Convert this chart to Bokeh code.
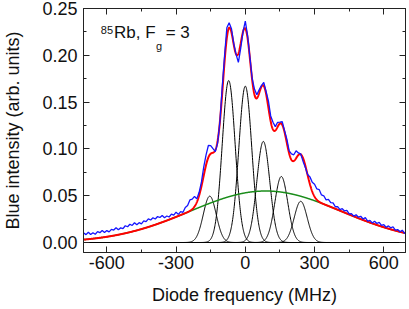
import numpy as np
from bokeh.plotting import figure
from bokeh.models import Range1d, LinearAxis, Label, NumeralTickFormatter, FixedTicker, CustomJSTickFormatter
from bokeh.embed import file_html
from bokeh.resources import INLINE

# ---- data ----
freq_start = -700      # MHz, first sample of the measured trace
freq_step = 10         # MHz between samples
blue_signal = [
    0.0102, 0.0084, 0.0109, 0.0085, 0.0104, 0.0088, 0.0116, 0.0105, 0.0127, 0.0107,
    0.0127, 0.0113, 0.0140, 0.0133, 0.0158, 0.0137, 0.0156, 0.0147, 0.0179, 0.0168,
    0.0195, 0.0182, 0.0211, 0.0190, 0.0212, 0.0199, 0.0230, 0.0223, 0.0252, 0.0240,
    0.0264, 0.0251, 0.0277, 0.0267, 0.0288, 0.0265, 0.0283, 0.0272, 0.0303, 0.0293,
    0.0324, 0.0300, 0.0330, 0.0323, 0.0374, 0.0395, 0.0455, 0.0463, 0.0492, 0.0466,
    0.0536, 0.0647, 0.0809, 0.0937, 0.1036, 0.1034, 0.1002, 0.0971, 0.1061, 0.1293,
    0.1662, 0.1992, 0.2295, 0.2348, 0.2284, 0.2125, 0.2010, 0.1925, 0.2074, 0.2250,
    0.2366, 0.2207, 0.1979, 0.1747, 0.1636, 0.1579, 0.1632, 0.1676, 0.1711, 0.1613,
    0.1512, 0.1352, 0.1285, 0.1238, 0.1284, 0.1285, 0.1290, 0.1195, 0.1104, 0.0980,
    0.0946, 0.0937, 0.0979, 0.0957, 0.0946, 0.0869, 0.0802, 0.0726, 0.0701, 0.0643,
    0.0622, 0.0572, 0.0565, 0.0508, 0.0499, 0.0455, 0.0460, 0.0425, 0.0424, 0.0382,
    0.0384, 0.0352, 0.0361, 0.0337, 0.0344, 0.0306, 0.0308, 0.0282, 0.0297, 0.0270,
    0.0280, 0.0251, 0.0265, 0.0229, 0.0236, 0.0209, 0.0226, 0.0203, 0.0214, 0.0182,
    0.0190, 0.0163, 0.0177, 0.0157, 0.0168, 0.0133, 0.0138, 0.0114, 0.0131, 0.0098,
    0.0109,
]
blue_freq = [freq_start + i * freq_step for i in range(len(blue_signal))]

# fitted hyperfine components (black)
peak_centers = [-154, -72, 0, 78, 156, 240]          # MHz
peak_heights = [0.0495, 0.173, 0.167, 0.108, 0.0705, 0.044]
peak_sigmas = [28, 28, 28, 28, 28, 28]               # MHz
# broad background (green)
bg_center = 88
bg_height = 0.055
bg_sigma = 328

x_ticks = [-600, -300, 0, 300, 600]
x_minor = [-450, -150, 150, 450]
y_ticks = [0.00, 0.05, 0.10, 0.15, 0.20, 0.25]
y_minor = [0.025, 0.075, 0.125, 0.175, 0.225]

# ---- model curves from the fitted parameters ----
xf = np.linspace(-701, 694, 1400)
components = [h * np.exp(-(xf - c) ** 2 / (2 * s ** 2))
              for c, h, s in zip(peak_centers, peak_heights, peak_sigmas)]
background = bg_height * np.exp(-(xf - bg_center) ** 2 / (2 * bg_sigma ** 2))
total = background + sum(components)

FONT = "Liberation Sans"

p = figure(width=409, height=309, x_range=Range1d(-701, 694),
           y_range=Range1d(-0.0107, 0.25), output_backend="svg",
           toolbar_location=None, min_border_left=79, min_border_right=4,
           min_border_top=8, min_border_bottom=57)
p.xgrid.visible = False
p.ygrid.visible = False
p.outline_line_color = "#222222"
p.background_fill_color = "white"
p.border_fill_color = "white"

def style(ax, labels=True):
    ax.major_tick_in = 6
    ax.major_tick_out = 0
    ax.minor_tick_in = 3
    ax.minor_tick_out = 0
    ax.axis_line_color = "#222222"
    ax.major_tick_line_color = "#222222"
    ax.minor_tick_line_color = "#222222"
    if labels:
        ax.major_label_text_font = FONT
        ax.major_label_text_font_size = "18px"
        ax.major_label_text_color = "#111111"
        ax.axis_label_text_font = FONT
        ax.axis_label_text_font_size = "18px"
        ax.axis_label_text_font_style = "normal"
        ax.axis_label_text_color = "#111111"
    else:
        ax.formatter = CustomJSTickFormatter(code="return ''")
        ax.major_label_text_font_size = "1px"
        ax.major_label_standoff = 0

xa = p.xaxis[0]
xa.ticker = FixedTicker(ticks=x_ticks, minor_ticks=x_minor)
xa.formatter = NumeralTickFormatter(format="0")
style(xa)
xa.axis_label = "Diode frequency (MHz)"
xa.major_label_standoff = 3
xa.axis_label_standoff = 13

ya = p.yaxis[0]
ya.ticker = FixedTicker(ticks=y_ticks, minor_ticks=y_minor)
ya.formatter = NumeralTickFormatter(format="0.00")
style(ya)
ya.axis_label = "Blue intensity (arb. units)"
ya.major_label_standoff = 6
ya.axis_label_standoff = 16

top = LinearAxis(ticker=FixedTicker(ticks=x_ticks, minor_ticks=x_minor))
style(top, labels=False)
p.add_layout(top, "above")
right = LinearAxis(ticker=FixedTicker(ticks=y_ticks, minor_ticks=y_minor))
style(right, labels=False)
p.add_layout(right, "right")

# curves
for comp in components:
    p.line(xf, comp, line_color="black", line_width=1)
p.line(xf, background, line_color="#1a8c1a", line_width=1.5)
p.line(xf, total, line_color="#ff0000", line_width=2)
p.line(blue_freq, blue_signal, line_color="#1414ff", line_width=1.3)

# annotation 85Rb, Fg = 3
p.add_layout(Label(x=-626, y=0.2273, text="85", text_font=FONT, text_font_size="11px",
                   text_baseline="alphabetic", text_color="#111111"))
p.add_layout(Label(x=-569, y=0.2240, text="Rb, F", text_font=FONT, text_font_size="17px",
                   text_baseline="alphabetic", text_color="#111111"))
p.add_layout(Label(x=-387, y=0.2094, text="g", text_font=FONT, text_font_size="11px",
                   text_baseline="alphabetic", text_color="#111111"))
p.add_layout(Label(x=-345, y=0.2240, text="= 3", text_font=FONT, text_font_size="17px",
                   text_baseline="alphabetic", text_color="#111111"))

open("out.html", "w").write(file_html(p, INLINE))
